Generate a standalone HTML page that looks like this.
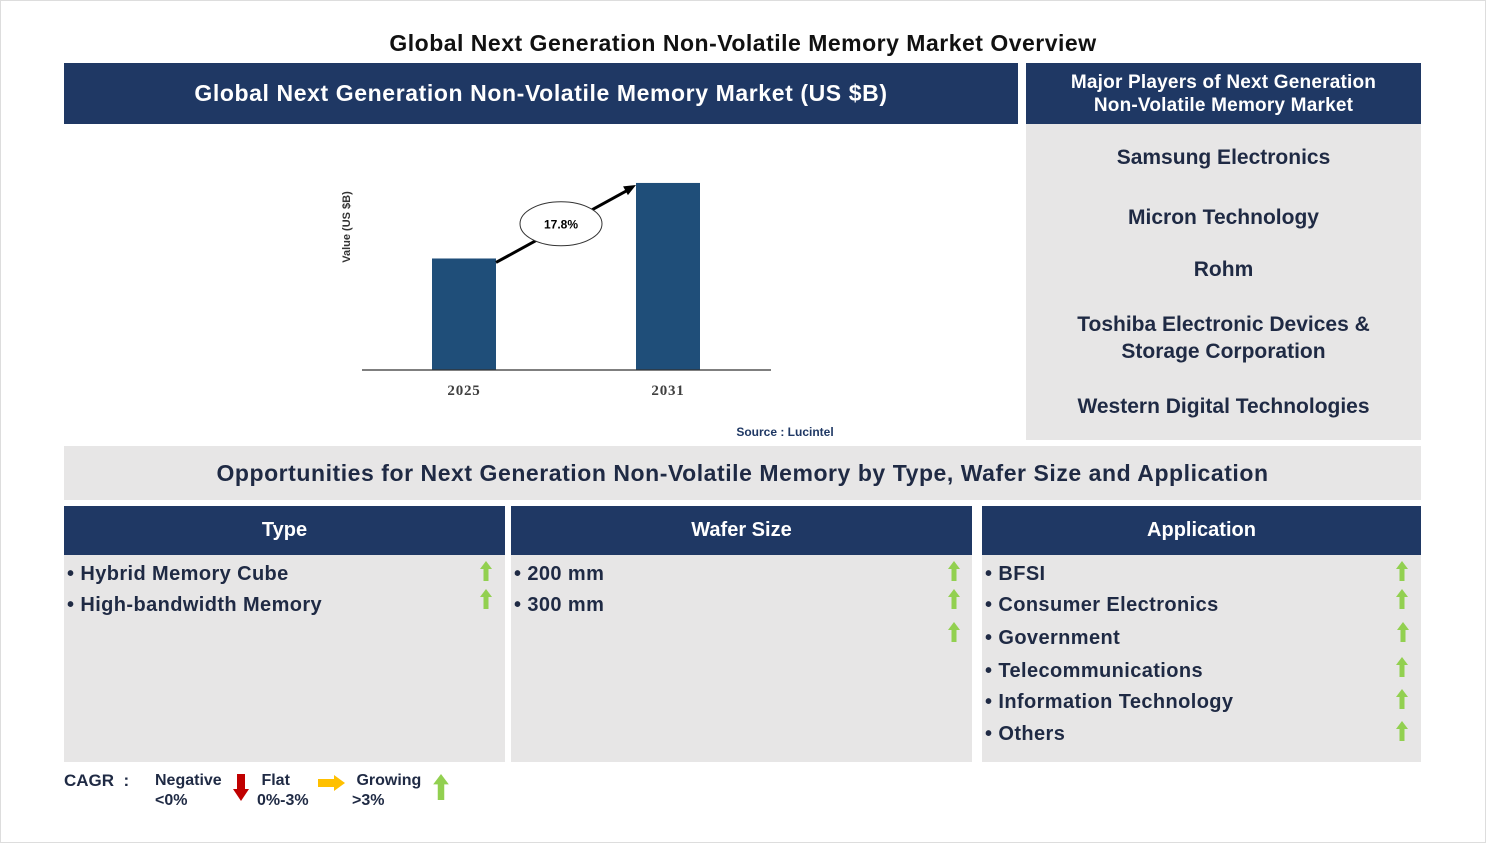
<!DOCTYPE html>
<html><head><meta charset="utf-8"><style>
body{margin:0;width:1486px;height:843px;background:#fff;font-family:"Liberation Sans",Arial,sans-serif;position:relative;overflow:hidden;color:#1f2a44}
.a{position:absolute}
.hdr{background:#1f3864;color:#fff;font-weight:bold;display:flex;align-items:center;justify-content:center;text-align:center}
.gray{background:#e7e6e6}
.item{position:absolute;font-weight:bold;font-size:20px;letter-spacing:0.4px;color:#1f2a44}
.player{position:absolute;left:1026px;width:395px;text-align:center;font-weight:bold;font-size:21px;color:#1f2a44;line-height:27px}
</style></head><body>
<div class="a" style="left:0;top:0;width:1484px;height:841px;border:1px solid #ddd"></div>
<div class="a" style="left:0;top:30px;width:1486px;text-align:center;font-weight:bold;font-size:23px;letter-spacing:0.5px;color:#111">Global Next Generation Non-Volatile Memory Market Overview</div>
<div class="a hdr" style="left:64px;top:63px;width:954px;height:61px;font-size:23px;letter-spacing:0.6px">Global Next Generation Non-Volatile Memory Market (US $B)</div>
<div class="a hdr" style="left:1026px;top:63px;width:395px;height:61px;font-size:19px;line-height:23px;letter-spacing:0.2px">Major Players of Next Generation<br>Non-Volatile Memory Market</div>
<div class="a gray" style="left:1026px;top:124px;width:395px;height:316px"></div>
<div class="player" style="top:144px">Samsung Electronics</div>
<div class="player" style="top:204px">Micron Technology</div>
<div class="player" style="top:256px">Rohm</div>
<div class="player" style="top:311px">Toshiba Electronic Devices &amp;<br>Storage Corporation</div>
<div class="player" style="top:393px">Western Digital Technologies</div>

<svg class="a" style="left:0;top:0" width="1486" height="450" id="chart"></svg>

<div class="a gray" style="left:64px;top:446px;width:1357px;height:54px;display:flex;align-items:center;justify-content:center;font-weight:bold;font-size:23px;letter-spacing:0.55px">Opportunities for Next Generation Non-Volatile Memory by Type, Wafer Size and Application</div>

<div class="a hdr" style="left:64px;top:506px;width:441px;height:49px;font-size:20px">Type</div>
<div class="a hdr" style="left:511px;top:506px;width:461px;height:49px;font-size:20px">Wafer Size</div>
<div class="a hdr" style="left:982px;top:506px;width:439px;height:49px;font-size:20px">Application</div>
<div class="a gray" style="left:64px;top:555px;width:441px;height:207px"></div>
<div class="a gray" style="left:511px;top:555px;width:461px;height:207px"></div>
<div class="a gray" style="left:982px;top:555px;width:439px;height:207px"></div>

<div class="item" style="left:67px;top:563px">• Hybrid Memory Cube</div>
<div class="item" style="left:67px;top:594px">• High-bandwidth Memory</div>
<div class="item" style="left:514px;top:563px">• 200 mm</div>
<div class="item" style="left:514px;top:594px">• 300 mm</div>
<div class="item" style="left:985px;top:563px">• BFSI</div>
<div class="item" style="left:985px;top:594px">• Consumer Electronics</div>
<div class="item" style="left:985px;top:627px">• Government</div>
<div class="item" style="left:985px;top:660px">• Telecommunications</div>
<div class="item" style="left:985px;top:691px">• Information Technology</div>
<div class="item" style="left:985px;top:723px">• Others</div>

<svg class="a" style="left:0;top:0" width="1486" height="843">
<defs><g id="ua"><polygon points="0,-10 6,-2 2.5,-2 2.5,10 -2.5,10 -2.5,-2 -6,-2" fill="#92d050"/></g></defs>
<use href="#ua" x="486" y="571"/><use href="#ua" x="486" y="599"/>
<use href="#ua" x="954" y="571"/><use href="#ua" x="954" y="599"/><use href="#ua" x="954" y="632"/>
<use href="#ua" x="1402" y="571"/><use href="#ua" x="1402" y="599"/><use href="#ua" x="1403" y="632"/><use href="#ua" x="1402" y="667"/><use href="#ua" x="1402" y="699"/><use href="#ua" x="1402" y="731"/>
<polygon points="237,774 245,774 245,789 249,789 241,801 233,789 237,789" fill="#c00000"/>
<polygon points="318,779 334,779 334,775 345,783 334,791 334,787 318,787" fill="#ffc000"/>
<g transform="translate(441,787) scale(1.3)"><use href="#ua"/></g>
</svg>
<div class="a" style="left:64px;top:771px;font-weight:bold;font-size:17px">CAGR&nbsp;&nbsp;:</div>
<div class="a" style="left:155px;top:771px;font-weight:bold;font-size:16px;line-height:20px">Negative<br>&lt;0%</div>
<div class="a" style="left:257px;top:771px;font-weight:bold;font-size:16px;line-height:20px">&nbsp;Flat<br>0%-3%</div>
<div class="a" style="left:352px;top:771px;font-weight:bold;font-size:16px;line-height:20px">&nbsp;Growing<br>&gt;3%</div>

<script>
const categories = ["2025", "2031"];
const values = [3.1, 5.2];
const cagrLabel = "17.8%";
const NS = "http://www.w3.org/2000/svg";
const svg = document.getElementById('chart');
const baseY = 370, plotTop = 170, yMax = 5.56;
function yScale(v){ return baseY - (v / yMax) * (baseY - plotTop); }
function xScale(c){ const i = categories.indexOf(c); return 464 + i * 204; }
function mk(tag, attrs){ const e = document.createElementNS(NS, tag); for (const k in attrs) e.setAttribute(k, attrs[k]); svg.appendChild(e); return e; }
const tops = [];
categories.forEach((c, i) => {
  const x = xScale(c), y = yScale(values[i]);
  const r = mk('rect', {x: x - 32, y: y, width: 64, height: baseY - y, fill: '#1f4e79'});
  
  
  const t = mk('text', {x: x, y: 395, 'text-anchor': 'middle', 'font-family': 'Liberation Serif, serif', 'font-weight': 'bold', 'font-size': 15, 'letter-spacing': 0.8, fill: '#404040'});
  t.textContent = c;
  
  
  tops.push([x, y]);
});
const ax = mk('line', {x1: 362, y1: baseY, x2: 771, y2: baseY, stroke: '#333', 'stroke-width': 1.2});


const x1 = tops[0][0] + 32, y1 = tops[0][1] + 4, x2 = tops[1][0] - 32, y2 = tops[1][1] + 2;
const ln = mk('line', {x1: x1, y1: y1, x2: x2 - 6, y2: y2 + 4, stroke: '#000', 'stroke-width': 3});


const ang = Math.atan2(y2 - y1, x2 - x1);
const hx = x2, hy = y2;
const p1 = [hx - 12*Math.cos(ang) + 5*Math.sin(ang), hy - 12*Math.sin(ang) - 5*Math.cos(ang)];
const p2 = [hx - 12*Math.cos(ang) - 5*Math.sin(ang), hy - 12*Math.sin(ang) + 5*Math.cos(ang)];
const hd = mk('polygon', {points: `${hx},${hy} ${p1} ${p2}`, fill: '#000'});


const mx = (x1 + x2) / 2 - 5, my = (y1 + y2) / 2;
const el = mk('ellipse', {cx: mx, cy: my, rx: 41, ry: 22, fill: '#fff', stroke: '#333', 'stroke-width': 1});


const ct = mk('text', {x: mx, y: my + 5, 'text-anchor': 'middle', 'font-family': 'Liberation Sans, sans-serif', 'font-weight': 'bold', 'font-size': 12, fill: '#000'});
ct.textContent = cagrLabel;


const yt = mk('text', {x: 0, y: 0, transform: 'translate(350,227) rotate(-90)', 'text-anchor': 'middle', 'font-family': 'Liberation Sans, sans-serif', 'font-weight': 'bold', 'font-size': 11, fill: '#333'});
yt.textContent = 'Value (US $B)';


const src = mk('text', {x: 785, y: 436, 'text-anchor': 'middle', 'font-family': 'Liberation Sans, sans-serif', 'font-weight': 'bold', 'font-size': 12, fill: '#1f3864'});
src.textContent = 'Source : Lucintel';


</script>
</body></html>
